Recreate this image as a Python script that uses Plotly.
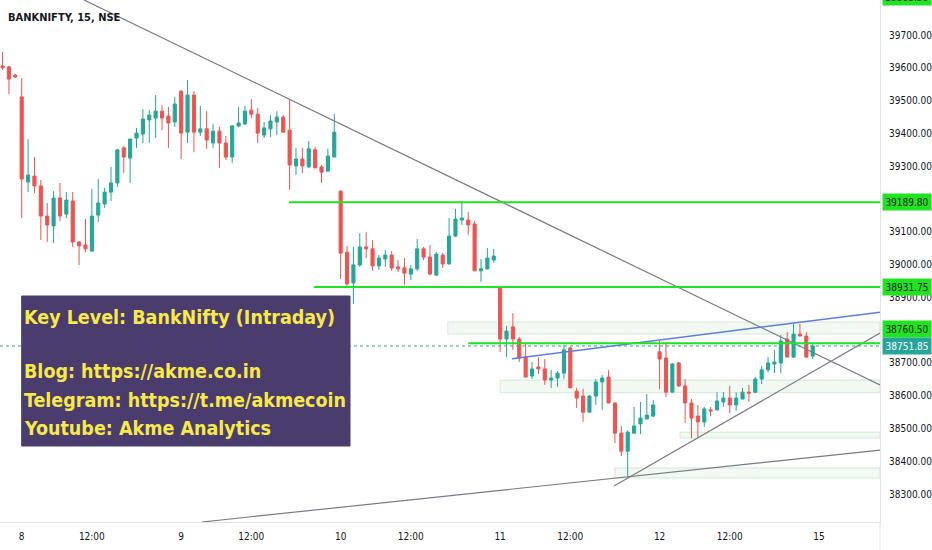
import plotly.graph_objects as go

# BANKNIFTY 15 min candles, last 3 bars of the 7th then 8th..12th (25 bars a day)
bar_no = list(range(-3, 125))

opens = [39606, 39603, 39578,
         39511, 39252, 39270, 39240, 39148, 39118, 39203, 39154, 39194, 39069, 39060, 39041, 39151,
         39185, 39221, 39249, 39356, 39325, 39386, 39398, 39441, 39447, 39468, 39453, 39435,
         39529, 39404, 39517, 39404, 39414, 39371, 39407, 39371, 39328, 39423, 39429, 39471, 39459,
         39395, 39414, 39435, 39450, 39410, 39301, 39322, 39298, 39350, 39298, 39285, 39328,
         39224, 39038, 38944, 38999, 39054, 39048, 38996, 39017, 39029, 38993, 38990, 38971, 38987,
         39048, 39023, 38968, 39029, 39002, 39087, 39136, 39136, 39124, 38981, 38987, 39014,
         38932, 38773, 38810, 38773, 38718, 38660, 38688, 38682, 38648, 38654, 38669, 38746, 38614,
         38599, 38550, 38599, 38642, 38657, 38578, 38486, 38431, 38486, 38514, 38529, 38538,
         38734, 38715, 38611, 38700, 38630, 38578, 38538, 38520, 38557, 38557, 38581, 38593, 38572,
         38590, 38611, 38611, 38651, 38679, 38697, 38700, 38773, 38718, 38788, 38782, 38721]

highs = [39648, 39606, 39581,
         39569, 39383, 39328, 39258, 39188, 39224, 39249, 39221, 39221, 39072, 39139, 39231, 39261,
         39234, 39298, 39353, 39362, 39383, 39417, 39474, 39471, 39517, 39487, 39481, 39511,
         39532, 39563, 39529, 39484, 39468, 39429, 39420, 39392, 39426, 39481, 39484, 39505, 39478,
         39435, 39456, 39468, 39456, 39502, 39356, 39356, 39377, 39359, 39304, 39353, 39459,
         39228, 39057, 39054, 39096, 39099, 39075, 39029, 39045, 39041, 39014, 39020, 38999, 39078,
         39054, 39060, 39038, 39035, 39142, 39170, 39194, 39160, 39133, 39017, 39051, 39048,
         38935, 38813, 38852, 38779, 38761, 38703, 38718, 38712, 38679, 38675, 38755, 38749, 38624,
         38621, 38602, 38651, 38663, 38679, 38578, 38508, 38495, 38566, 38581, 38605, 38587,
         38767, 38761, 38700, 38703, 38651, 38590, 38572, 38566, 38566, 38611, 38611, 38630, 38611,
         38624, 38633, 38657, 38691, 38718, 38740, 38785, 38794, 38819, 38819, 38794, 38761]

lows = [39594, 39520, 39569,
        39142, 39221, 39218, 39075, 39069, 39066, 39133, 39142, 39054, 38999, 39038, 39041, 39130,
        39173, 39194, 39237, 39279, 39249, 39356, 39371, 39371, 39386, 39410, 39356, 39420,
        39322, 39371, 39343, 39392, 39353, 39356, 39295, 39319, 39310, 39420, 39426, 39447, 39371,
        39386, 39389, 39395, 39404, 39228, 39273, 39279, 39295, 39295, 39249, 39285, 39328,
        38956, 38932, 38880, 38993, 39020, 38981, 38984, 38993, 38981, 38977, 38938, 38953, 38981,
        39014, 38968, 38965, 38990, 38999, 39084, 39121, 39090, 38981, 38947, 38984, 39005,
        38733, 38718, 38740, 38703, 38657, 38651, 38666, 38633, 38624, 38627, 38651, 38624, 38563,
        38520, 38550, 38572, 38557, 38578, 38456, 38416, 38352, 38489, 38483, 38529, 38535,
        38620, 38596, 38611, 38627, 38517, 38471, 38474, 38505, 38538, 38554, 38566, 38547, 38554,
        38593, 38581, 38608, 38636, 38672, 38669, 38669, 38718, 38715, 38782, 38715, 38712]

closes = [39600, 39566, 39572,
          39261, 39273, 39240, 39148, 39121, 39203, 39148, 39197, 39069, 39057, 39048, 39148, 39188,
          39221, 39249, 39350, 39328, 39383, 39401, 39444, 39456, 39468, 39447, 39432, 39490,
          39401, 39517, 39404, 39414, 39380, 39407, 39371, 39328, 39423, 39432, 39468, 39459, 39401,
          39417, 39438, 39450, 39404, 39304, 39322, 39301, 39353, 39295, 39282, 39331, 39404,
          39035, 38941, 38999, 39054, 39048, 38996, 39020, 39029, 38990, 38987, 38974, 38987, 39048,
          39023, 38971, 39032, 39002, 39087, 39139, 39142, 39121, 38981, 38987, 39020, 39026,
          38773, 38797, 38773, 38715, 38657, 38682, 38682, 38648, 38654, 38669, 38740, 38624, 38593,
          38550, 38599, 38642, 38654, 38578, 38486, 38431, 38489, 38508, 38532, 38541, 38572,
          38712, 38611, 38697, 38630, 38578, 38532, 38520, 38560, 38554, 38584, 38593, 38572, 38593,
          38611, 38608, 38651, 38679, 38700, 38703, 38767, 38718, 38788, 38782, 38718, 38751.85]

# x axis labels (bar number of 9:15 and 12:00 of each day)
day_ticks = [0, 11, 25, 36, 50, 61, 75, 86, 100, 111, 125]
day_labels = ['8', '12:00', '9', '12:00', '10', '12:00', '11', '12:00', '12', '12:00', '15']
# 38800 and 39200 sit under the level tags on the price scale
price_ticks = [38300, 38400, 38500, 38600, 38700, 38900, 39000, 39100,
               39300, 39400, 39500, 39600, 39700]

# drawn key levels
levels = [39189.80, 38931.75, 38760.50]
level_from = [41.9, 45.8, 70]
last_price = 38751.85
top_label = 39803.50

# support / resistance zones
zone_from = [66.8, 75, 103.2, 93]
zone_low = [38788, 38609, 38471, 38349]
zone_high = [38825, 38648, 38489, 38380]

# trend lines: x0, y0, x1, y1
gray_lines = [(9.77, 39807, 134.55, 38633),
              (92.85, 38325, 134.55, 38791),
              (28.26, 38215, 134.55, 38434.5)]
blue_line = (76.86, 38713, 134.55, 38855)

X_MIN, X_MAX = -3.4, 134.55
Y_MIN, Y_MAX = 38215, 39807
UP, DOWN = '#26a69a', '#ef5350'
GREEN = '#1ee51e'
NARROW = 'DejaVu Sans Condensed, Noto Sans, sans-serif'

fig = go.Figure(go.Candlestick(
    x=bar_no, open=opens, high=highs, low=lows, close=closes,
    increasing=dict(line=dict(color=UP, width=1), fillcolor=UP),
    decreasing=dict(line=dict(color=DOWN, width=1), fillcolor=DOWN),
    hoverinfo='skip', showlegend=False))

shapes = []
for x0, lo, hi in zip(zone_from, zone_low, zone_high):
    shapes.append(dict(type='rect', xref='x', yref='y', x0=x0, x1=X_MAX, y0=lo, y1=hi,
                       fillcolor='rgba(76,175,80,0.07)', line=dict(color='rgba(76,175,80,0.22)', width=1),
                       layer='below'))
for x0, y0, x1, y1 in gray_lines:
    shapes.append(dict(type='line', xref='x', yref='y', x0=x0, y0=y0, x1=x1, y1=y1,
                       line=dict(color='#787b86', width=1.2)))
x0, y0, x1, y1 = blue_line
shapes.append(dict(type='line', xref='x', yref='y', x0=x0, y0=y0, x1=x1, y1=y1,
                   line=dict(color='#5b7ee5', width=1.5)))
for lv, x0 in zip(levels, level_from):
    shapes.append(dict(type='line', xref='x', yref='y', x0=x0, x1=X_MAX, y0=lv, y1=lv,
                       line=dict(color=GREEN, width=2)))
shapes.append(dict(type='line', xref='x', yref='y', x0=X_MIN, x1=X_MAX, y0=last_price, y1=last_price,
                   line=dict(color=UP, width=1, dash='dot')))
# text box
shapes.append(dict(type='rect', xref='paper', yref='paper', x0=21.7 / 880, x1=350 / 880,
                   y0=1 - 446 / 522, y1=1 - 296 / 522, fillcolor='#4b3c6e',
                   line=dict(color='#4b3c6e', width=1), layer='above'))
# price scale border below the x axis
shapes.append(dict(type='line', xref='paper', yref='paper', x0=1, x1=1, y0=-28 / 522, y1=0,
                   line=dict(color='#e0e3eb', width=1)))

annotations = [dict(text='BANKNIFTY, 15, NSE', xref='paper', yref='paper', x=6 / 880, y=1 - 17 / 522,
                    xanchor='left', yanchor='middle', showarrow=False,
                    font=dict(family=NARROW, size=11, color='#131722', weight='bold'))]

box_lines = ['Key Level: BankNifty (Intraday)', 'Blog: https://akme.co.in',
             'Telegram: https://t.me/akmecoin', 'Youtube: Akme Analytics']
box_y = [317, 371, 400, 428]
for txt, yy in zip(box_lines, box_y):
    annotations.append(dict(text=txt, xref='paper', yref='paper', x=22 / 880, y=1 - yy / 522,
                            xanchor='left', yanchor='middle', showarrow=False,
                            font=dict(family=NARROW, size=19.5, color='#f7e948', weight='bold')))

# price scale labels
tags = [(top_label, GREEN, '#131722', 4), (levels[0], GREEN, '#131722', 0),
        (levels[1], GREEN, '#131722', 0), (levels[2], GREEN, '#131722', 14),
        (last_price, UP, '#ffffff', 0)]
for val, bg, fc, shift in tags:
    annotations.append(dict(text='%.2f' % val, xref='paper', yref='y', x=1, y=val, yshift=shift,
                            xanchor='left', yanchor='middle', xshift=2, showarrow=False,
                            bgcolor=bg, width=46, height=14, borderpad=1,
                            font=dict(family=NARROW, size=10, color=fc)))

fig.update_layout(
    width=932, height=550,
    margin=dict(l=0, r=52, t=0, b=28),
    paper_bgcolor='white', plot_bgcolor='white',
    shapes=shapes, annotations=annotations,
    xaxis=dict(range=[X_MIN, X_MAX], rangeslider=dict(visible=False), showgrid=False, zeroline=False,
               tickvals=day_ticks, ticktext=day_labels, ticks='outside', ticklen=5,
               tickcolor='rgba(0,0,0,0)', showline=True, linecolor='#e0e3eb', linewidth=1,
               tickfont=dict(family=NARROW, size=10, color='#131722')),
    yaxis=dict(range=[Y_MIN, Y_MAX], side='right', showgrid=False, zeroline=False,
               tickvals=price_ticks, tickformat='.2f', ticks='outside', ticklen=6,
               tickcolor='rgba(0,0,0,0)', showline=True, linecolor='#e0e3eb', linewidth=1,
               tickfont=dict(family=NARROW, size=10, color='#131722')),
)

fig.write_html('out.html', config={'displayModeBar': False},
               post_script="document.body.style.margin='0';")
